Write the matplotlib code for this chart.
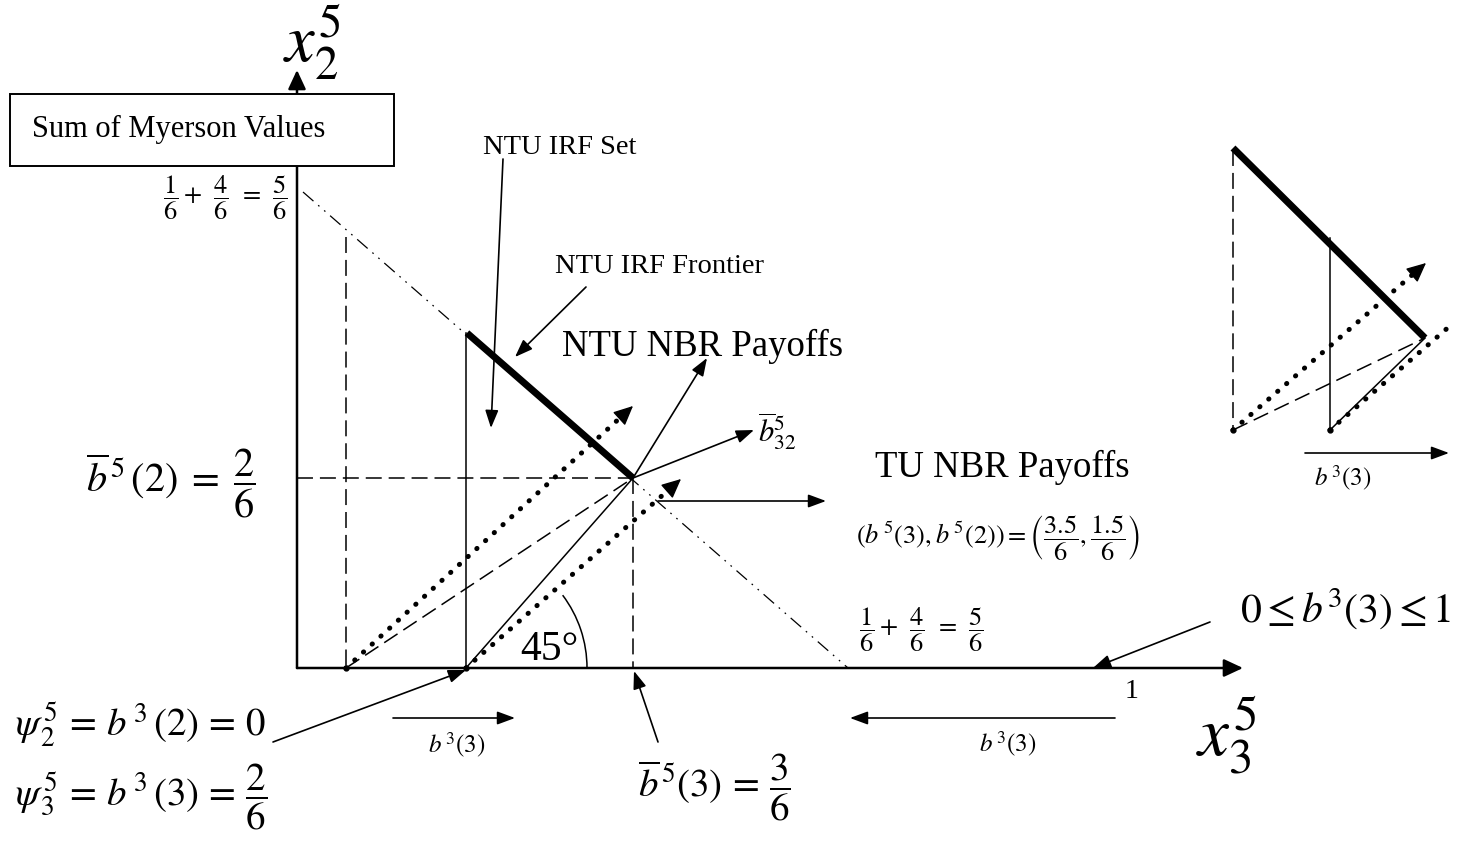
import matplotlib
matplotlib.use("Agg")
import numpy as np
import matplotlib.pyplot as plt
from matplotlib.patches import Arc, Rectangle

plt.rcParams["font.family"] = ["Liberation Serif", "DejaVu Serif"]
plt.rcParams["mathtext.fontset"] = "stix"
plt.rcParams["lines.scale_dashes"] = False

W, H = 1465, 842

# diagram geometry in picture units (x to the right, y downwards)
origin = (297, 668)
x_axis_tip = (1243, 668)
y_axis_tip = (297, 70)
nbr_pt = (633, 478)
psi_pts = [(346, 668), (466, 668)]
sum_line = [(303, 192), (848, 668)]
frontier = [(467, 333), (633, 478)]
dashed_lines = [
    [(346, 237), (346, 668)],
    [(297, 478), (633, 478)],
    [(633, 478), (633, 668)],
    [(346, 668), (633, 478)],
]
solid_lines = [
    [(466, 333), (466, 668)],
    [(466, 668), (633, 478)],
]
dotted_rays = [[(346, 668), (633, 406)], [(466, 668), (681, 479)]]

# small inset on the right
inset_frontier = [(1233, 148), (1425, 338)]
inset_dashed = [[(1233, 150), (1233, 430)], [(1233, 430), (1425, 338)]]
inset_solid = [[(1330, 238), (1330, 430)], [(1330, 430), (1425, 338)]]
inset_rays = [[(1233, 430), (1426, 263)], [(1330, 430), (1466, 312)]]
inset_pts = [(1233, 430), (1330, 430)]

# label arrows: (start, tip)
label_arrows = [
    ((503, 159), (491, 428)),
    ((586, 287), (515, 357)),
    ((633, 478), (707, 358)),
    ((633, 478), (754, 430)),
    ((658, 501), (826, 501)),
    ((1210, 622), (1093, 668)),
    ((273, 742), (466, 670)),
    ((658, 742), (634, 671)),
    ((393, 718), (515, 718)),
    ((1115, 718), (850, 718)),
    ((1305, 453), (1449, 453)),
]

SUM_FRAC = r"$\dfrac{1}{6}+\;\,\dfrac{4}{6}\;\,=\;\,\dfrac{5}{6}$"

# texts: x, y, string, size, ha, va
labels = [
    (32, 137, "Sum of Myerson Values", 22, "left", "baseline"),
    (283, 62, r"$x_2^5$", 48, "left", "baseline"),
    (225, 198, SUM_FRAC, 19, "center", "center"),
    (483, 154, "NTU IRF Set", 20.5, "left", "baseline"),
    (555, 273, "NTU IRF Frontier", 20.5, "left", "baseline"),
    (562, 356, "NTU NBR Payoffs", 26.5, "left", "baseline"),
    (758, 442, r"$\overline{b}_{32}^{5}$", 22, "left", "baseline"),
    (875, 477, "TU NBR Payoffs", 26.5, "left", "baseline"),
    (998, 538, r"$(b^{\,5}(3), b^{\,5}(2)) = \left(\dfrac{3.5}{6}, \dfrac{1.5}{6}\right)$", 19, "center", "center"),
    (921, 630, SUM_FRAC, 19, "center", "center"),
    (1240, 623, r"$0 \leq b^3(3) \leq 1$", 30, "left", "baseline"),
    (1132, 698, "1", 20, "center", "baseline"),
    (1196, 755, r"$x_3^5$", 50, "left", "baseline"),
    (457, 753, r"$b^{\,3}(3)$", 18, "center", "baseline"),
    (1008, 752, r"$b^{\,3}(3)$", 18, "center", "baseline"),
    (1343, 486, r"$b^{\,3}(3)$", 18, "center", "baseline"),
    (520, 660, "45°", 30, "left", "baseline"),
    (86, 483, r"$\overline{b}^{\,5}\,(2)\;=\;\dfrac{2}{6}$", 29, "left", "center"),
    (15, 737, r"$\psi_{\,2}^{\,5}\,=\,b^{\,3}\,(2)\,=\,0$", 28, "left", "baseline"),
    (15, 797, r"$\psi_{\,3}^{\,5}\,=\,b^{\,3}\,(3)\,=\,\dfrac{2}{6}$", 28, "left", "center"),
    (638, 787, r"$\overline{b}^{\,5}(3)\,=\,\dfrac{3}{6}$", 28, "left", "center"),
]

DASH = (0, (11.5, 5))
DOT = (0, (0.2, 8.3))
DASHDOT = (0, (10, 4.5, 1.2, 4.5, 1.2, 4.5))


def seg(ax, pts, **kw):
    xs, ys = zip(*pts)
    ax.plot(xs, ys, color="k", **kw)


def arrow(ax, start, tip, lw=1.2, hl=0.54, hw=0.2, ms=20):
    ax.annotate("", xy=tip, xytext=start,
                arrowprops=dict(arrowstyle="-|>,head_length=%g,head_width=%g" % (hl, hw),
                                color="k", lw=lw, shrinkA=0, shrinkB=0,
                                mutation_scale=ms))


def dotted_ray(ax, pts):
    (x0, y0), (x1, y1) = pts
    d = np.hypot(x1 - x0, y1 - y0)
    ux, uy = (x1 - x0) / d, (y1 - y0) / d
    seg(ax, [(x0, y0), (x1 - 16 * ux, y1 - 16 * uy)], lw=3.6, linestyle=DOT,
        dash_capstyle="round")
    arrow(ax, (x1 - 18 * ux, y1 - 18 * uy), (x1, y1), lw=1.0, hl=0.6, hw=0.28)


fig = plt.figure(figsize=(W / 100, H / 100), dpi=100)
ax = fig.add_axes([0, 0, 1, 1])
ax.set_xlim(0, W)
ax.set_ylim(H, 0)
ax.set_aspect("equal")
ax.axis("off")

# axes of the diagram
arrow(ax, origin, x_axis_tip, lw=1.8, hl=0.58, hw=0.27)
arrow(ax, origin, y_axis_tip, lw=1.8, hl=0.58, hw=0.27)

ax.add_patch(Rectangle((10, 94), 384, 72, facecolor="white", edgecolor="k",
                       lw=1.4, zorder=3))

seg(ax, sum_line, lw=0.9, linestyle=DASHDOT)
seg(ax, frontier, lw=5, solid_capstyle="butt")
for pts in dashed_lines:
    seg(ax, pts, lw=1.1, linestyle=DASH)
for pts in solid_lines:
    seg(ax, pts, lw=1.1)
for pts in dotted_rays:
    dotted_ray(ax, pts)
ax.plot(*zip(*psi_pts), "o", color="k", ms=3.5)

ax.add_patch(Arc((466, 668), 242, 242, theta1=-37, theta2=0, color="k", lw=1.1))

# inset
seg(ax, inset_frontier, lw=5, solid_capstyle="butt")
for pts in inset_dashed:
    seg(ax, pts, lw=1.1, linestyle=DASH)
for pts in inset_solid:
    seg(ax, pts, lw=1.1)
for pts in inset_rays:
    dotted_ray(ax, pts)
ax.plot(*zip(*inset_pts), "o", color="k", ms=3.5)

for start, tip in label_arrows:
    arrow(ax, start, tip)

for x, y, s, size, ha, va in labels:
    ax.text(x, y, s, fontsize=size, ha=ha, va=va, zorder=4)

fig.savefig("out.png", dpi=100)
